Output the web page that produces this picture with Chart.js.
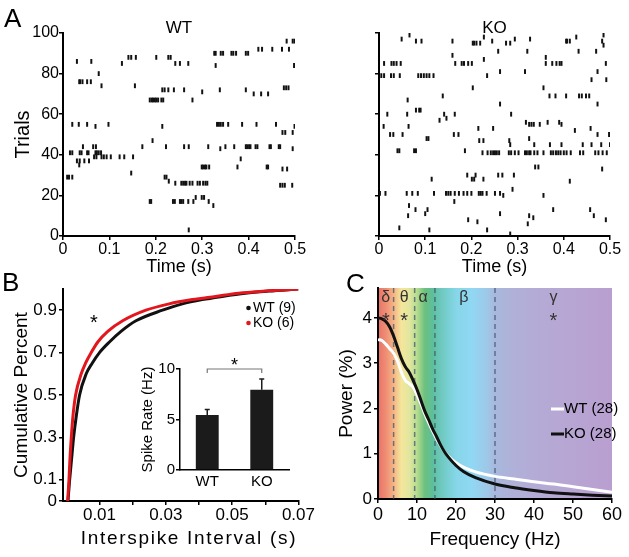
<!DOCTYPE html>
<html>
<head>
<meta charset="utf-8">
<script src="https://cdn.jsdelivr.net/npm/chart.js@4.4.1/dist/chart.umd.min.js"></script>
<style>
body { margin: 0; background: #fff; }
#fig { position: relative; width: 629px; height: 557px; overflow: hidden; font-family: "Liberation Sans", Arial, sans-serif; }
#fig canvas { position: absolute; }
.panel { position: absolute; font-size: 26px; line-height: 1; }
#isi-title { position: absolute; left: 0; width: 378px; top: 527px; text-align: center; font-size: 19px; letter-spacing: 1.7px; line-height: 22px; }
</style>
</head>
<body>
<div id="fig">
  <canvas id="wt-raster" width="310" height="280" style="left:0;top:0"></canvas>
  <canvas id="ko-raster" width="314" height="280" style="left:315px;top:0"></canvas>
  <canvas id="isi-chart" width="315" height="287" style="left:0;top:270px"></canvas>
  <canvas id="rate-chart" width="175" height="145" style="left:130px;top:355px"></canvas>
  <canvas id="power-chart" width="314" height="287" style="left:315px;top:270px"></canvas>
  <div class="panel" style="left:4px;top:5px">A</div>
  <div class="panel" style="left:2px;top:269px">B</div>
  <div class="panel" style="left:346px;top:270px">C</div>
  <div id="isi-title">Interspike Interval (s)</div>
</div>
<script>
// Raster: [trial, [spike times (s)]]
const wtRaster = [
  [96, [0.482, 0.495, 0.499]],
  [92, [0.421, 0.429, 0.451, 0.472, 0.487]],
  [90, [0.326, 0.329, 0.340, 0.345, 0.363, 0.367, 0.373, 0.394, 0.399]],
  [88, [0.141, 0.147, 0.157, 0.201, 0.227, 0.232]],
  [86, [0.030, 0.061]],
  [85, [0.127, 0.242, 0.252, 0.270]],
  [84, [0.329, 0.498]],
  [80, [0.077]],
  [76, [0.035, 0.037, 0.042, 0.052, 0.060]],
  [74, [0.083, 0.155]],
  [73, [0.476, 0.481, 0.486]],
  [72, [0.214, 0.219, 0.227, 0.239, 0.261, 0.338, 0.394]],
  [71, [0.300]],
  [70, [0.411, 0.427, 0.442]],
  [67, [0.187, 0.191, 0.194, 0.198, 0.201, 0.205, 0.212, 0.216, 0.279]],
  [55, [0.020, 0.034, 0.052, 0.098, 0.332, 0.336, 0.340, 0.345, 0.356, 0.386, 0.417, 0.459]],
  [54, [0.070, 0.214, 0.499]],
  [51, [0.473, 0.479, 0.495]],
  [47, [0.193]],
  [44, [0.043, 0.065, 0.071, 0.171, 0.222, 0.261, 0.271, 0.313, 0.350, 0.369, 0.394, 0.397, 0.401, 0.404, 0.415, 0.419, 0.445, 0.448, 0.465, 0.468]],
  [43, [0.339, 0.495]],
  [41, [0.015, 0.020, 0.036, 0.040, 0.052, 0.055, 0.070, 0.073, 0.077, 0.082]],
  [39, [0.067, 0.072, 0.083, 0.088, 0.094, 0.103, 0.122, 0.132, 0.151]],
  [38, [0.383]],
  [37, [0.030, 0.036, 0.046, 0.056]],
  [35, [0.035]],
  [34, [0.299, 0.302, 0.306, 0.309, 0.315, 0.376, 0.439, 0.442]],
  [33, [0.473, 0.483]],
  [31, [0.147]],
  [29, [0.009, 0.013, 0.020, 0.219, 0.223]],
  [27, [0.228]],
  [26, [0.242, 0.255, 0.259, 0.263, 0.266, 0.273, 0.279, 0.290, 0.295, 0.302, 0.307, 0.311]],
  [25, [0.468, 0.473, 0.478, 0.494]],
  [19, [0.286, 0.299, 0.304]],
  [17, [0.187, 0.190, 0.237, 0.241, 0.252, 0.255, 0.259, 0.270, 0.281, 0.314]],
  [15, [0.324]],
  [3, [0.271]]
];
const koRaster = [
  [99, [0.066, 0.486]],
  [98, [0.227, 0.427]],
  [97, [0.049, 0.294, 0.327]],
  [96, [0.080, 0.092, 0.159, 0.245, 0.405, 0.407, 0.413, 0.483]],
  [95, [0.203, 0.206, 0.211, 0.219, 0.275, 0.284]],
  [94, [0.486]],
  [91, [0.258, 0.321, 0.432, 0.470]],
  [89, [0.159]],
  [88, [0.361]],
  [87, [0.227]],
  [85, [0.011, 0.027, 0.032, 0.038, 0.047, 0.165, 0.179, 0.184, 0.193, 0.201, 0.361, 0.375, 0.384, 0.391, 0.395, 0.491]],
  [81, [0.262, 0.316, 0.473]],
  [79, [0.005, 0.011, 0.026, 0.032, 0.045, 0.085, 0.091, 0.097, 0.103, 0.109, 0.118, 0.234]],
  [77, [0.460, 0.492]],
  [73, [0.203, 0.356]],
  [69, [0.138, 0.369, 0.382, 0.405, 0.433, 0.439, 0.448, 0.455]],
  [67, [0.062]],
  [65, [0.262, 0.473]],
  [62, [0.080, 0.087, 0.090]],
  [60, [0.018, 0.061, 0.141, 0.164, 0.286]],
  [58, [0.146]],
  [57, [0.131]],
  [56, [0.318, 0.365, 0.390]],
  [55, [0.325, 0.330, 0.335, 0.348, 0.395]],
  [54, [0.010, 0.064]],
  [53, [0.215, 0.247, 0.458]],
  [52, [0.424]],
  [50, [0.024, 0.031, 0.051, 0.162, 0.172, 0.473, 0.498]],
  [48, [0.103, 0.107, 0.325]],
  [47, [0.217, 0.226, 0.282]],
  [45, [0.284, 0.336, 0.370, 0.395, 0.441, 0.460, 0.481, 0.5]],
  [42, [0.040, 0.044, 0.076, 0.080, 0.186]],
  [41, [0.224, 0.235, 0.242, 0.247, 0.251, 0.255, 0.260, 0.281, 0.286, 0.294, 0.302, 0.316, 0.320, 0.325, 0.328, 0.336, 0.343, 0.356, 0.372, 0.377, 0.383, 0.388, 0.393, 0.400, 0.406, 0.415, 0.435, 0.442, 0.468, 0.475, 0.484, 0.493]],
  [34, [0.338, 0.345]],
  [33, [0.483]],
  [30, [0.191, 0.209, 0.258, 0.267, 0.292]],
  [28, [0.114, 0.201, 0.206, 0.226]],
  [27, [0.413]],
  [23, [0.289]],
  [21, [0.002, 0.014, 0.060, 0.072, 0.084, 0.119, 0.145, 0.150, 0.155, 0.164, 0.173, 0.183, 0.191, 0.200, 0.216, 0.220, 0.224, 0.233, 0.251, 0.262]],
  [20, [0.269, 0.356]],
  [17, [0.163]],
  [15, [0.065]],
  [13, [0.079, 0.105, 0.377, 0.457]],
  [11, [0.100, 0.262]],
  [10, [0.063, 0.325, 0.465]],
  [9, [0.334]],
  [8, [0.193, 0.491]],
  [7, [0.213]],
  [6, [0.322]],
  [4, [0.044]],
  [3, [0.109, 0.234]],
  [1, [0.284]]
];
const rasterTimeTicks = [0, 0.1, 0.2, 0.3, 0.4, 0.5];
const rasterTrialTicks = [0, 20, 40, 60, 80, 100];

// Cumulative ISI distribution
const isiCumY = [0, 0.1, 0.2, 0.3, 0.4, 0.5, 0.6, 0.65, 0.7, 0.75, 0.8, 0.85, 0.9, 0.93, 0.95, 0.965, 0.98, 0.99, 1.0];
const isiWtX = [0.0005, 0.001, 0.0016, 0.0022, 0.003, 0.004, 0.006, 0.0078, 0.01, 0.013, 0.0165, 0.021, 0.029, 0.035, 0.041, 0.047, 0.054, 0.061, 0.07];
const isiKoX = [0.0004, 0.0008, 0.0011, 0.0015, 0.002, 0.0028, 0.0045, 0.0058, 0.0075, 0.0095, 0.0125, 0.017, 0.024, 0.031, 0.038, 0.045, 0.052, 0.06, 0.07];
const isiXTicks = [0.01, 0.02, 0.03, 0.04, 0.05, 0.06, 0.07];
const isiYTicks = [0, 0.1, 0.3, 0.5, 0.7, 0.9];

// Inset: spike rate
const rateGroups = ['WT', 'KO'];
const rateMean = [5.45, 7.95];
const rateSem = [0.55, 1.05];
const rateTicks = [0, 5, 10];

// Power spectrum
const freqHz = [0, 1, 2, 3, 4, 5, 6, 7, 8, 9, 10, 11, 12, 13, 14, 15, 16, 17, 18, 20, 22, 25, 30, 35, 40, 45, 50, 55, 60];
const powerKo = [4.0, 3.98, 3.92, 3.8, 3.6, 3.35, 3.1, 2.92, 2.8, 2.62, 2.42, 2.18, 1.94, 1.75, 1.55, 1.38, 1.2, 1.05, 0.93, 0.74, 0.6, 0.47, 0.33, 0.25, 0.19, 0.14, 0.11, 0.085, 0.065];
const powerWt = [3.52, 3.5, 3.42, 3.32, 3.22, 3.05, 2.8, 2.62, 2.55, 2.47, 2.3, 2.1, 1.88, 1.68, 1.5, 1.33, 1.18, 1.05, 0.95, 0.8, 0.7, 0.6, 0.5, 0.44, 0.38, 0.33, 0.27, 0.21, 0.15];
const bandEdges = [4, 9.4, 14.6, 30];
const bandNames = ['δ', 'θ', 'α', 'β', 'γ'];
const bandCentres = [2, 6.7, 11.6, 22, 45];
const bandStars = [true, true, false, false, true];
const powerXTicks = [0, 10, 20, 30, 40, 50, 60];
const powerYTicks = [0, 1, 2, 3, 4];

const FONT = '"Liberation Sans", Arial, sans-serif';
Chart.defaults.font.family = FONT;
Chart.defaults.color = '#000';

const setTicks = vals => axis => { axis.ticks = vals.map(v => ({ value: v })); };
const fixWidth = w => scale => { scale.width = w; };
const fixHeight = h => scale => { scale.height = h; };

function axisStyle(extra) {
  return Object.assign({
    border: { display: true, color: '#000', width: 2 },
    grid: { display: true, drawOnChartArea: false, drawTicks: true, tickLength: 4, color: '#000', lineWidth: 1.5 }
  }, extra);
}

// free text in pixels or data units
const notesPlugin = {
  id: 'notes',
  afterDraw(chart, args, opts) {
    const { ctx, scales } = chart;
    (opts.items || []).forEach(n => {
      const x = n.xv !== undefined ? scales.x.getPixelForValue(n.xv) : n.x;
      const y = n.yv !== undefined ? scales.y.getPixelForValue(n.yv) : n.y;
      ctx.save();
      ctx.font = n.font;
      ctx.fillStyle = n.color || '#000';
      ctx.textAlign = n.align || 'center';
      ctx.textBaseline = 'middle';
      ctx.fillText(n.text, x, y);
      ctx.restore();
    });
  }
};

function rasterPoints(rows) {
  const pts = [];
  rows.forEach(([trial, times]) => times.forEach(t => pts.push({ x: t, y: trial })));
  return pts;
}

function rasterChart(id, rows, title, yWidth, padRight, showYLabels) {
  return new Chart(document.getElementById(id), {
    type: 'scatter',
    data: {
      datasets: [{
        data: rasterPoints(rows),
        pointStyle: 'line', rotation: 90, radius: 2.4,
        borderColor: '#111', borderWidth: 2, backgroundColor: '#111'
      }]
    },
    options: {
      responsive: false, animation: false, devicePixelRatio: 1, events: [],
      layout: { padding: { top: 33, right: padRight, left: 0, bottom: 0 } },
      plugins: {
        legend: { display: false }, tooltip: { enabled: false },
        notes: { items: [{ text: title, x: 0, y: 28, font: '17px ' + FONT }] }
      },
      scales: {
        x: axisStyle({
          type: 'linear', min: 0, max: 0.5,
          afterBuildTicks: setTicks(rasterTimeTicks), afterFit: fixHeight(44),
          ticks: { font: { size: 16 }, padding: 0, maxRotation: 0 },
          title: { display: true, text: 'Time (s)', font: { size: 18 }, padding: { top: 0, bottom: 2 } }
        }),
        y: axisStyle({
          type: 'linear', min: 0, max: 100,
          afterBuildTicks: setTicks(rasterTrialTicks), afterFit: fixWidth(yWidth),
          ticks: { font: { size: 16 }, padding: 0, callback: v => showYLabels ? v : '' },
          title: { display: showYLabels, text: 'Trials', font: { size: 20 }, padding: { top: 11, bottom: 0 } }
        })
      }
    },
    plugins: [notesPlugin, {
      id: 'centreTitle',
      beforeDraw(chart) {
        const items = chart.options.plugins.notes.items;
        items[0].x = (chart.chartArea.left + chart.chartArea.right) / 2;
      }
    }]
  });
}

rasterChart('wt-raster', wtRaster, 'WT', 63, 15, true);
rasterChart('ko-raster', koRaster, 'KO', 64, 19, false);

// B: cumulative ISI
new Chart(document.getElementById('isi-chart'), {
  type: 'scatter',
  data: {
    datasets: [
      { label: 'KO (6)', data: isiKoX.map((x, i) => ({ x, y: isiCumY[i] })), showLine: true,
        borderColor: '#e3161d', borderWidth: 3, pointRadius: 0, cubicInterpolationMode: 'monotone' },
      { label: 'WT (9)', data: isiWtX.map((x, i) => ({ x, y: isiCumY[i] })), showLine: true,
        borderColor: '#111', borderWidth: 3, pointRadius: 0, cubicInterpolationMode: 'monotone' }
    ]
  },
  options: {
    responsive: false, animation: false, devicePixelRatio: 1, events: [],
    layout: { padding: { top: 19, right: 14, left: 0, bottom: 0 } },
    plugins: {
      legend: { display: false }, tooltip: { enabled: false },
      notes: { items: [
        { text: '*', x: 94, y: 53, font: '20px ' + FONT },
        { text: 'WT (9)', x: 253, y: 38, align: 'left', font: '14px ' + FONT },
        { text: 'KO (6)', x: 253, y: 53, align: 'left', font: '14px ' + FONT }
      ] }
    },
    scales: {
      x: axisStyle({
        type: 'linear', min: -0.001, max: 0.07,
        afterBuildTicks: setTicks(isiXTicks), afterFit: fixHeight(56),
        ticks: { font: { size: 17 }, padding: 0, maxRotation: 0, autoSkip: false,
          callback: v => (Math.round(v * 100) % 2 === 1) ? v.toFixed(2) : '' },
        title: { display: false }
      }),
      y: axisStyle({
        type: 'linear', min: 0, max: 1.0,
        afterBuildTicks: setTicks(isiYTicks), afterFit: fixWidth(63),
        ticks: { font: { size: 17 }, padding: 2, callback: v => v === 0 ? '0' : v.toFixed(1) },
        title: { display: true, text: 'Cumulative Percent', font: { size: 19 }, padding: { top: 10, bottom: 0 } }
      })
    }
  },
  plugins: [notesPlugin, {
    id: 'legendDots',
    afterDraw(chart) {
      const ctx = chart.ctx;
      [['#111', 38], ['#e3161d', 53]].forEach(([c, y]) => {
        ctx.beginPath(); ctx.fillStyle = c; ctx.arc(248.5, y, 2.3, 0, Math.PI * 2); ctx.fill();
      });
    }
  }]
});

// B inset: spike rate bars
new Chart(document.getElementById('rate-chart'), {
  type: 'bar',
  data: {
    labels: rateGroups,
    datasets: [{ data: rateMean, backgroundColor: '#1b1b1b', borderWidth: 0, barPercentage: 0.42, categoryPercentage: 1 }]
  },
  options: {
    responsive: false, animation: false, devicePixelRatio: 1, events: [],
    layout: { padding: { top: 14, right: 16, left: 0, bottom: 0 } },
    plugins: { legend: { display: false }, tooltip: { enabled: false } },
    scales: {
      x: {
        border: { display: true, color: '#000', width: 1.5 },
        grid: { display: false, drawTicks: false },
        afterFit: fixHeight(30),
        ticks: { font: { size: 15 }, padding: 3 }
      },
      y: axisStyle({
        min: 0, max: 10,
        afterBuildTicks: setTicks(rateTicks), afterFit: fixWidth(50),
        border: { display: true, color: '#000', width: 1.5 },
        ticks: { font: { size: 15 }, padding: 1 },
        title: { display: true, text: 'Spike Rate (Hz)', font: { size: 15 }, padding: { top: 9, bottom: 0 } }
      })
    }
  },
  plugins: [{
    id: 'errorBars',
    afterDatasetsDraw(chart) {
      const { ctx, scales } = chart;
      const bars = chart.getDatasetMeta(0).data;
      ctx.save();
      ctx.strokeStyle = '#1b1b1b'; ctx.lineWidth = 1.5;
      bars.forEach((bar, i) => {
        const yTop = scales.y.getPixelForValue(rateMean[i] + rateSem[i]);
        ctx.beginPath();
        ctx.moveTo(bar.x, bar.y); ctx.lineTo(bar.x, yTop);
        ctx.moveTo(bar.x - 2.5, yTop); ctx.lineTo(bar.x + 2.5, yTop);
        ctx.stroke();
      });
      // significance bracket
      const yb = scales.y.getPixelForValue(10);
      ctx.strokeStyle = '#777'; ctx.lineWidth = 1.2;
      ctx.beginPath();
      ctx.moveTo(bars[0].x, yb + 4); ctx.lineTo(bars[0].x, yb);
      ctx.lineTo(bars[1].x, yb); ctx.lineTo(bars[1].x, yb + 4);
      ctx.stroke();
      ctx.fillStyle = '#000'; ctx.font = '18px ' + FONT; ctx.textAlign = 'center'; ctx.textBaseline = 'middle';
      ctx.fillText('*', (bars[0].x + bars[1].x) / 2, yb - 3);
      ctx.restore();
    }
  }]
});

// C: power spectrum
const bandColours = [
  [0, '#e8716a'], [2, '#ef8d74'], [4, '#f4b484'], [6, '#f4e69b'], [8, '#e2e6a0'],
  [10, '#b6dc90'], [12, '#6cc07e'], [14, '#5dbf9a'], [16, '#6cc8bc'], [20, '#86d6e8'],
  [24, '#90d8f4'], [28, '#9ec8e8'], [30, '#a8b8dc'], [35, '#b0b0d8'], [45, '#b6a8d4'], [60, '#b99fd0']
];

new Chart(document.getElementById('power-chart'), {
  type: 'scatter',
  data: {
    datasets: [
      { label: 'KO (28)', data: freqHz.map((x, i) => ({ x, y: powerKo[i] })), showLine: true,
        borderColor: '#111', borderWidth: 3, pointRadius: 0, cubicInterpolationMode: 'monotone' },
      { label: 'WT (28)', data: freqHz.map((x, i) => ({ x, y: powerWt[i] })), showLine: true,
        borderColor: '#fff', borderWidth: 3, pointRadius: 0, cubicInterpolationMode: 'monotone' }
    ]
  },
  options: {
    responsive: false, animation: false, devicePixelRatio: 1, events: [],
    layout: { padding: { top: 18, right: 17, left: 0, bottom: 0 } },
    plugins: {
      legend: { display: false }, tooltip: { enabled: false },
      notes: { items: bandNames.map((t, i) => ({ text: t, xv: bandCentres[i], y: 28, font: '16px ' + FONT, color: '#333' }))
        .concat(bandStars.map((s, i) => s ? { text: '*', xv: bandCentres[i], y: 51, font: '20px ' + FONT, color: '#333' } : null).filter(Boolean))
        .concat([
          { text: 'WT (28)', x: 249, y: 139, align: 'left', font: '15px ' + FONT },
          { text: 'KO (28)', x: 249, y: 164, align: 'left', font: '15px ' + FONT }
        ]) }
    },
    scales: {
      x: axisStyle({
        type: 'linear', min: 0, max: 60,
        afterBuildTicks: setTicks(powerXTicks), afterFit: fixHeight(58),
        ticks: { font: { size: 18 }, padding: 1, maxRotation: 0 },
        title: { display: true, text: 'Frequency (Hz)', font: { size: 19 }, padding: { top: 0, bottom: 6 } }
      }),
      y: axisStyle({
        type: 'linear', min: 0, max: 4.66,
        afterBuildTicks: setTicks(powerYTicks), afterFit: fixWidth(63),
        ticks: { font: { size: 17 }, padding: 2 },
        title: { display: true, text: 'Power (%)', font: { size: 19 }, padding: { top: 20, bottom: 0 } }
      })
    }
  },
  plugins: [notesPlugin, {
    id: 'bands',
    beforeDraw(chart) {
      const { ctx, chartArea: a, scales } = chart;
      const g = ctx.createLinearGradient(a.left, 0, a.right, 0);
      bandColours.forEach(([f, c]) => g.addColorStop((scales.x.getPixelForValue(f) - a.left) / (a.right - a.left), c));
      ctx.save();
      ctx.fillStyle = g;
      ctx.fillRect(a.left, a.top, a.right - a.left, a.bottom - a.top);
      ctx.restore();
    },
    beforeDatasetsDraw(chart) {
      const { ctx, chartArea: a, scales } = chart;
      ctx.save();
      ctx.strokeStyle = 'rgba(55,80,105,0.7)'; ctx.lineWidth = 1.5; ctx.setLineDash([5, 4]);
      bandEdges.forEach(f => {
        const x = scales.x.getPixelForValue(f);
        ctx.beginPath(); ctx.moveTo(x, a.top); ctx.lineTo(x, a.bottom); ctx.stroke();
      });
      ctx.restore();
    },
    afterDraw(chart) {
      const ctx = chart.ctx;
      ctx.save(); ctx.lineWidth = 3;
      [['#fff', 139], ['#111', 164]].forEach(([c, y]) => {
        ctx.strokeStyle = c; ctx.beginPath(); ctx.moveTo(236, y); ctx.lineTo(249, y); ctx.stroke();
      });
      ctx.restore();
    }
  }]
});
</script>
</body>
</html>
